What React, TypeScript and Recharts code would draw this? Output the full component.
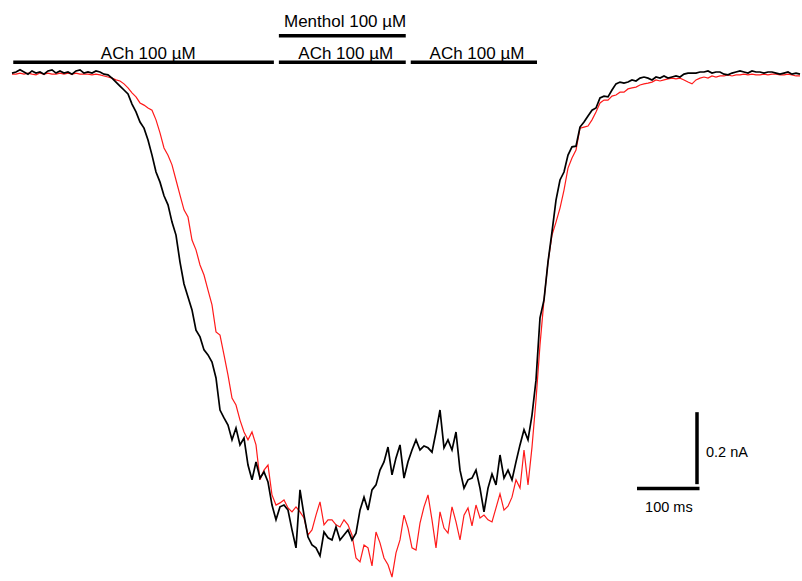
import React from 'react';
import { LineChart, Line, XAxis, YAxis, ReferenceLine, ReferenceDot } from 'recharts';

const SAMPLE_MS = 6.4;

// Control response: ACh 100 µM (pA)
const CONTROL_PA = [
  -3, 0, 6, 0, -6, 3, -3, 0, -6, 3, 6, -3, 3, -3, 0, -6, 3, 6, -3, 0,
  -3, 3, 0, -6, -8, -17, -28, -39, -50, -61, -89, -111, -139, -156, -189, -231, -278, -306, -344, -369,
  -417, -453, -528, -589, -625, -661, -717, -736, -772, -786, -806, -850, -939, -961, -981, -1022, -989, -1036, -1017, -1092,
  -1133, -1083, -1128, -1111, -1139, -1203, -1244, -1208, -1203, -1217, -1272, -1322, -1161, -1231, -1292, -1314, -1322, -1344, -1278, -1294,
  -1300, -1264, -1300, -1286, -1272, -1300, -1281, -1217, -1181, -1217, -1161, -1147, -1106, -1083, -1042, -1119, -1072, -1036, -1128, -1083,
  -1050, -1022, -1050, -1039, -1044, -1056, -1000, -939, -1044, -1022, -1050, -1000, -1106, -1156, -1133, -1128, -1106, -1156, -1222, -1156,
  -1117, -1147, -1064, -1128, -1106, -1133, -1083, -1036, -994, -1022, -953, -856, -683, -633, -528, -444, -356, -300, -278, -231,
  -208, -206, -153, -139, -122, -106, -100, -72, -67, -69, -50, -33, -28, -31, -28, -22, -25, -17, -14, -17,
  -22, -14, -17, -11, -17, -14, -11, -14, -6, -3, -3, -3, 0, 0, 3, -3, 0, 0, -6, -8,
  -3, 0, 3, 0, -3, 3, 0, 0, -3, 0, 0, -3, -6, -3, 0, -6, -3, -6,
];

// Second trace (red) (pA)
const MENTHOL_PA = [
  -6, -6, -3, -6, -3, -6, -8, -3, -6, -3, -6, -6, -3, -6, -3, -6, -3, -6, -6, -6,
  -8, -6, -8, -11, -14, -17, -22, -25, -33, -44, -58, -69, -86, -92, -100, -106, -133, -169, -211, -231,
  -258, -300, -342, -383, -403, -467, -494, -536, -564, -606, -647, -722, -731, -786, -842, -906, -925, -967, -1000, -1022,
  -1000, -1036, -1133, -1106, -1092, -1175, -1203, -1197, -1189, -1211, -1222, -1208, -1222, -1239, -1286, -1272, -1231, -1194, -1258, -1244,
  -1244, -1258, -1264, -1244, -1258, -1286, -1350, -1361, -1314, -1322, -1372, -1278, -1308, -1350, -1369, -1403, -1336, -1300, -1231, -1267,
  -1322, -1328, -1253, -1208, -1175, -1244, -1322, -1222, -1267, -1281, -1208, -1250, -1300, -1231, -1211, -1261, -1203, -1239, -1231, -1244,
  -1250, -1211, -1172, -1217, -1206, -1181, -1133, -1156, -1050, -1147, -1042, -911, -758, -633, -528, -453, -417, -378, -328, -267,
  -239, -217, -156, -153, -150, -133, -111, -86, -78, -78, -67, -64, -56, -56, -47, -44, -42, -36, -33, -31,
  -28, -22, -25, -22, -19, -17, -19, -17, -22, -28, -33, -22, -17, -14, -17, -11, -14, -11, -11, -8,
  -11, -8, -8, -6, -8, -6, -8, -8, -6, -8, -6, -6, -8, -8, -6, -8, -11, -11,
];

// Drug application bars: label, start/end (ms), level (pA), label position
const APPLICATION_LABELS = ['ACh 100 µM', 'ACh 100 µM', 'ACh 100 µM', 'Menthol 100 µM'];
const APPLICATION_START_MS = [2, 427, 638, 427];
const APPLICATION_END_MS = [419, 630, 840, 630];
const APPLICATION_LEVEL_PA = [27, 27, 27, 101];
const APPLICATION_LABEL_MS = [218, 534, 744, 533];
const APPLICATION_LABEL_PA = [54, 54, 54, 142];

// Scale bars
const SCALE_TIME_MS = 100;
const SCALE_CURRENT_PA = 200;
const SCALE_TIME_LABEL = '100 ms';
const SCALE_CURRENT_LABEL = '0.2 nA';

const TIME_DOMAIN: [number, number] = [-19.2, 1264];
const CURRENT_DOMAIN: [number, number] = [-1414, 200];

const data = CONTROL_PA.map((v, i) => ({ t: i * SAMPLE_MS, black: v, red: MENTHOL_PA[i] }));

const FONT = '"Liberation Sans", Arial, Helvetica, sans-serif';

export default function App() {
  const hx0 = 1000;
  const hy = -1157;
  const vx = 1096;
  const vy0 = -1145;
  return (
    <div style={{ position: 'absolute', left: 0, top: 0, width: 802, height: 581, background: '#fff', fontFamily: FONT }}>
      <LineChart width={802} height={581} data={data} margin={{ top: 0, right: 0, bottom: 0, left: 0 }}>
        <XAxis dataKey="t" type="number" domain={TIME_DOMAIN} allowDataOverflow hide />
        <YAxis type="number" domain={CURRENT_DOMAIN} allowDataOverflow hide />
        <Line dataKey="red" stroke="#ff1a1a" strokeWidth={1.2} dot={false} activeDot={false} isAnimationActive={false} />
        <Line dataKey="black" stroke="#000" strokeWidth={1.7} dot={false} activeDot={false} isAnimationActive={false} />
        {APPLICATION_LABELS.map((lab, i) => (
          <ReferenceLine
            key={'bar' + i}
            segment={[
              { x: APPLICATION_START_MS[i], y: APPLICATION_LEVEL_PA[i] },
              { x: APPLICATION_END_MS[i], y: APPLICATION_LEVEL_PA[i] },
            ]}
            stroke="#000"
            strokeWidth={3.5}
            ifOverflow="visible"
          />
        ))}
        {APPLICATION_LABELS.map((lab, i) => (
          <ReferenceDot
            key={'lab' + i}
            x={APPLICATION_LABEL_MS[i]}
            y={APPLICATION_LABEL_PA[i]}
            r={0}
            fill="none"
            stroke="none"
            ifOverflow="visible"
            label={{ value: lab, position: 'center', fill: '#000', fontSize: 17, fontFamily: FONT }}
          />
        ))}
        <ReferenceLine
          segment={[{ x: hx0, y: hy }, { x: hx0 + SCALE_TIME_MS, y: hy }]}
          stroke="#000"
          strokeWidth={3.5}
          ifOverflow="visible"
        />
        <ReferenceLine
          segment={[{ x: vx, y: vy0 }, { x: vx, y: vy0 + SCALE_CURRENT_PA }]}
          stroke="#000"
          strokeWidth={3.5}
          ifOverflow="visible"
        />
        <ReferenceDot
          x={1144}
          y={-1056}
          r={0}
          fill="none"
          stroke="none"
          ifOverflow="visible"
          label={{ value: SCALE_CURRENT_LABEL, position: 'center', fill: '#000', fontSize: 14.5, fontFamily: FONT }}
        />
        <ReferenceDot
          x={1051}
          y={-1208}
          r={0}
          fill="none"
          stroke="none"
          ifOverflow="visible"
          label={{ value: SCALE_TIME_LABEL, position: 'center', fill: '#000', fontSize: 14.5, fontFamily: FONT }}
        />
      </LineChart>
    </div>
  );
}
